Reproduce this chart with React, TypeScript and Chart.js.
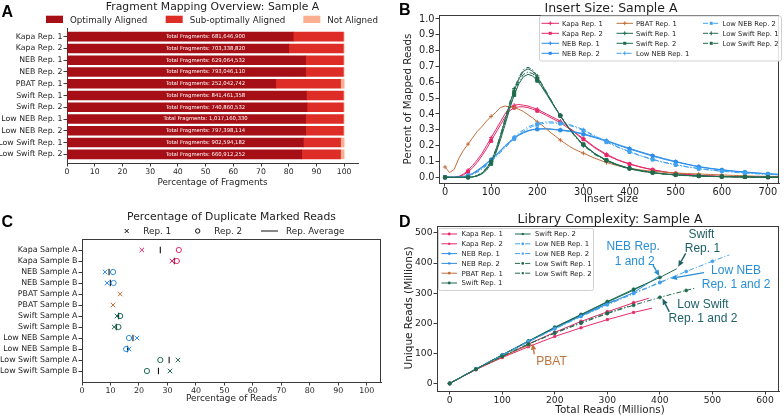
import React, { useEffect, useRef } from 'react';
import { Chart, registerables } from 'chart.js';

Chart.register(...registerables);

const CW = 784;
const CH = 415;
const MPL = '"DejaVu Sans", "Noto Sans", sans-serif';
const SANS = '"Liberation Sans", Arial, sans-serif';
const INK = '#1e1e1e';
const SPINE = '#3a3a3a';

const KAPA = '#e6286a';
const NEB = '#2b8de8';
const LOW_NEB = '#41a2f0';
const PBAT = '#c06e3a';
const SWIFT = '#1b6b52';
const LOW_SWIFT = '#226a4c';

// ---------------- Panel A: fragment mapping ----------------
const fragmentSamples = [
  'Kapa Rep. 1', 'Kapa Rep. 2', 'NEB Rep. 1', 'NEB Rep. 2', 'PBAT Rep. 1', 'Swift Rep. 1',
  'Swift Rep. 2', 'Low NEB Rep. 1', 'Low NEB Rep. 2', 'Low Swift Rep. 1', 'Low Swift Rep. 2',
];
const optimallyAligned = [81.6, 80.0, 86.1, 86.1, 75.3, 86.4, 86.6, 86.1, 86.1, 85.3, 84.7];
const subOptimallyAligned = [18.1, 19.7, 13.6, 13.6, 23.4, 13.3, 13.1, 13.6, 13.6, 13.4, 14.0];
const notAligned = [0.3, 0.3, 0.3, 0.3, 1.3, 0.3, 0.3, 0.3, 0.3, 1.3, 1.3];
const totalFragments = [
  '681,646,900', '703,338,820', '629,064,532', '793,046,110', '252,042,742', '841,461,358',
  '740,860,532', '1,017,160,330', '797,398,114', '902,594,182', '660,912,252',
];
const fragmentTicks = [0, 10, 20, 30, 40, 50, 60, 70, 80, 90, 100];

// ---------------- Panel B: insert size ----------------
const insertSizes = [
  0, 10, 20, 30, 40, 50, 60, 70, 80, 90, 100, 110, 120, 130, 140, 150, 160, 170, 180, 190, 200,
  210, 220, 230, 240, 250, 260, 270, 280, 290, 300, 325, 350, 375, 400, 425, 450, 475, 500, 525,
  550, 575, 600, 625, 650, 675, 700, 725,
];
const kapaRep1Insert = [0, 0, 0, 0.005, 0.02, 0.045, 0.075, 0.11, 0.15, 0.2, 0.25, 0.3, 0.35, 0.4, 0.44, 0.455, 0.46, 0.455, 0.45, 0.44, 0.43, 0.415, 0.4, 0.385, 0.37, 0.355, 0.335, 0.31, 0.29, 0.265, 0.245, 0.19, 0.145, 0.11, 0.085, 0.065, 0.048, 0.035, 0.025, 0.018, 0.012, 0.009, 0.006, 0.004, 0.003, 0.002, 0.001, 0.001];
const kapaRep2Insert = [0, 0, 0, 0.003, 0.015, 0.035, 0.06, 0.095, 0.135, 0.18, 0.23, 0.28, 0.33, 0.38, 0.42, 0.44, 0.445, 0.445, 0.44, 0.43, 0.42, 0.405, 0.39, 0.375, 0.36, 0.345, 0.325, 0.305, 0.285, 0.26, 0.24, 0.185, 0.14, 0.108, 0.083, 0.063, 0.047, 0.034, 0.024, 0.017, 0.012, 0.008, 0.006, 0.004, 0.003, 0.002, 0.001, 0.001];
const nebRep1Insert = [0, 0, 0, 0, 0.005, 0.012, 0.025, 0.045, 0.065, 0.09, 0.115, 0.14, 0.17, 0.2, 0.225, 0.25, 0.27, 0.285, 0.295, 0.302, 0.305, 0.307, 0.307, 0.305, 0.302, 0.3, 0.297, 0.293, 0.288, 0.282, 0.275, 0.255, 0.232, 0.207, 0.183, 0.16, 0.138, 0.118, 0.1, 0.083, 0.068, 0.057, 0.048, 0.04, 0.034, 0.028, 0.023, 0.019];
const nebRep2Insert = [0, 0, 0, 0, 0.004, 0.01, 0.022, 0.04, 0.06, 0.085, 0.11, 0.135, 0.165, 0.195, 0.22, 0.245, 0.265, 0.28, 0.292, 0.3, 0.303, 0.305, 0.305, 0.303, 0.3, 0.297, 0.293, 0.289, 0.284, 0.278, 0.271, 0.25, 0.228, 0.203, 0.178, 0.156, 0.134, 0.114, 0.097, 0.081, 0.066, 0.055, 0.046, 0.038, 0.032, 0.026, 0.021, 0.017];
const pbatRep1Insert = [0.065, 0.03, 0.05, 0.12, 0.17, 0.21, 0.25, 0.29, 0.32, 0.355, 0.385, 0.41, 0.44, 0.45, 0.445, 0.44, 0.43, 0.415, 0.395, 0.375, 0.35, 0.33, 0.305, 0.28, 0.258, 0.235, 0.215, 0.195, 0.178, 0.165, 0.152, 0.12, 0.093, 0.073, 0.057, 0.046, 0.038, 0.032, 0.027, 0.024, 0.021, 0.018, 0.015, 0.012, 0.009, 0.007, 0.006, 0.005];
const swiftRep1Insert = [0, 0, 0, 0, 0, 0, 0.003, 0.01, 0.025, 0.055, 0.1, 0.17, 0.26, 0.36, 0.46, 0.55, 0.62, 0.67, 0.685, 0.67, 0.63, 0.585, 0.535, 0.485, 0.435, 0.39, 0.345, 0.305, 0.268, 0.235, 0.205, 0.148, 0.107, 0.077, 0.055, 0.04, 0.029, 0.021, 0.015, 0.011, 0.008, 0.006, 0.004, 0.003, 0.002, 0.001, 0.001, 0];
const swiftRep2Insert = [0, 0, 0, 0, 0, 0, 0.002, 0.008, 0.02, 0.045, 0.085, 0.15, 0.235, 0.33, 0.43, 0.52, 0.59, 0.635, 0.65, 0.64, 0.61, 0.57, 0.525, 0.478, 0.432, 0.388, 0.345, 0.305, 0.27, 0.237, 0.208, 0.15, 0.109, 0.079, 0.057, 0.042, 0.03, 0.022, 0.016, 0.012, 0.009, 0.006, 0.004, 0.003, 0.002, 0.001, 0.001, 0];
const lowNebRep1Insert = [0, 0, 0, 0, 0.004, 0.01, 0.02, 0.035, 0.055, 0.08, 0.105, 0.135, 0.165, 0.195, 0.225, 0.255, 0.28, 0.3, 0.318, 0.33, 0.34, 0.346, 0.35, 0.35, 0.348, 0.345, 0.34, 0.333, 0.324, 0.313, 0.3, 0.262, 0.225, 0.192, 0.162, 0.136, 0.114, 0.095, 0.08, 0.067, 0.056, 0.047, 0.04, 0.034, 0.029, 0.024, 0.02, 0.017];
const lowNebRep2Insert = [0, 0, 0, 0, 0.003, 0.008, 0.018, 0.032, 0.05, 0.073, 0.098, 0.125, 0.155, 0.185, 0.215, 0.243, 0.268, 0.29, 0.308, 0.322, 0.332, 0.338, 0.342, 0.343, 0.342, 0.339, 0.334, 0.327, 0.318, 0.307, 0.295, 0.258, 0.222, 0.189, 0.16, 0.134, 0.112, 0.093, 0.078, 0.065, 0.054, 0.045, 0.038, 0.032, 0.027, 0.022, 0.018, 0.015];
const lowSwiftRep1Insert = [0, 0, 0, 0, 0, 0, 0.004, 0.012, 0.03, 0.06, 0.105, 0.175, 0.265, 0.37, 0.47, 0.56, 0.63, 0.68, 0.695, 0.68, 0.64, 0.59, 0.54, 0.488, 0.437, 0.39, 0.344, 0.302, 0.264, 0.23, 0.2, 0.143, 0.103, 0.074, 0.053, 0.038, 0.028, 0.02, 0.014, 0.01, 0.007, 0.005, 0.004, 0.003, 0.002, 0.001, 0.001, 0];
const lowSwiftRep2Insert = [0, 0, 0, 0, 0, 0, 0.003, 0.01, 0.026, 0.052, 0.095, 0.16, 0.245, 0.345, 0.445, 0.535, 0.605, 0.65, 0.665, 0.655, 0.62, 0.578, 0.53, 0.482, 0.434, 0.39, 0.347, 0.307, 0.27, 0.236, 0.206, 0.148, 0.106, 0.076, 0.055, 0.04, 0.029, 0.021, 0.015, 0.011, 0.008, 0.006, 0.004, 0.003, 0.002, 0.001, 0.001, 0];
const insertXTicks = [0, 100, 200, 300, 400, 500, 600, 700];
const insertYTicks = [0, 0.1, 0.2, 0.3, 0.4, 0.5, 0.6, 0.7, 0.8, 0.9, 1.0];

// ---------------- Panel C: duplicates ----------------
const dupCategories = [
  'Kapa Sample A', 'Kapa Sample B', 'NEB Sample A', 'NEB Sample B', 'PBAT Sample A', 'PBAT Sample B',
  'Swift Sample A', 'Swift Sample B', 'Low NEB Sample A', 'Low NEB Sample B', 'Low Swift Sample A', 'Low Swift Sample B',
];
const dupRep1 = [21.0, 31.6, 8.1, 8.8, 13.4, 10.9, 12.3, 11.3, 19.3, 16.5, 33.7, 30.9];
const dupRep2 = [34.0, 33.3, 10.9, 11.1, null, null, 13.4, 12.8, 16.5, 15.5, 27.5, 22.8];
const dupColors = [KAPA, KAPA, NEB, NEB, PBAT, PBAT, SWIFT, SWIFT, NEB, NEB, SWIFT, SWIFT];
const dupTicks = [0, 10, 20, 30, 40, 50, 60, 70, 80, 90, 100];

// ---------------- Panel D: library complexity ----------------
const kapaRep1Total = [0, 50, 100, 150, 200, 250, 300, 350, 379];
const kapaRep1Unique = [0, 47, 88, 131, 170, 206, 238, 268, 283];
const kapaRep2Total = [0, 50, 100, 150, 200, 250, 300, 350, 385];
const kapaRep2Unique = [0, 46, 86, 122, 156, 185, 212, 236, 250];
const nebRep1Total = [0, 50, 100, 150, 200, 250, 300, 315];
const nebRep1Unique = [0, 48, 95, 141, 185, 226, 266, 277];
const nebRep2Total = [0, 50, 100, 150, 200, 250, 300, 350, 397];
const nebRep2Unique = [0, 48, 94, 139, 183, 224, 264, 302, 355];
const pbatRep1Total = [0, 50, 100, 150, 156];
const pbatRep1Unique = [0, 47, 89, 127, 131];
const swiftRep1Total = [0, 50, 100, 150, 200, 250, 300, 350, 400, 432];
const swiftRep1Unique = [0, 48, 95, 141, 187, 229, 272, 313, 352, 381];
const swiftRep2Total = [0, 50, 100, 150, 200, 250, 300, 350, 370];
const swiftRep2Unique = [0, 48, 94, 140, 185, 228, 270, 310, 328];
const lowNebRep1Total = [0, 50, 100, 150, 200, 250, 300, 350, 400, 450, 500, 532];
const lowNebRep1Unique = [0, 48, 94, 139, 182, 223, 262, 300, 336, 372, 406, 427];
const lowNebRep2Total = [0, 50, 100, 150, 200, 250, 300, 350, 400, 415];
const lowNebRep2Unique = [0, 48, 94, 138, 181, 222, 261, 298, 334, 346];
const lowSwiftRep1Total = [0, 50, 100, 150, 200, 250, 300, 350, 400, 450, 468];
const lowSwiftRep1Unique = [0, 47, 90, 131, 167, 200, 232, 260, 286, 309, 317];
const lowSwiftRep2Total = [0, 50, 100, 150, 200, 250, 300, 340];
const lowSwiftRep2Unique = [0, 47, 90, 131, 168, 203, 234, 257];
const complexityXTicks = [0, 100, 200, 300, 400, 500, 600];
const complexityYTicks = [0, 100, 200, 300, 400, 500];

const DASHDOT = [5, 2, 1.2, 2];

const kitSeries = [
  { label: 'Kapa Rep. 1', color: KAPA, dash: [], marker: 'cross', ins: kapaRep1Insert, tx: kapaRep1Total, ty: kapaRep1Unique },
  { label: 'Kapa Rep. 2', color: KAPA, dash: [], marker: 'rect', ins: kapaRep2Insert, tx: kapaRep2Total, ty: kapaRep2Unique },
  { label: 'NEB Rep. 1', color: NEB, dash: [], marker: 'cross', ins: nebRep1Insert, tx: nebRep1Total, ty: nebRep1Unique },
  { label: 'NEB Rep. 2', color: NEB, dash: [], marker: 'rect', ins: nebRep2Insert, tx: nebRep2Total, ty: nebRep2Unique },
  { label: 'PBAT Rep. 1', color: PBAT, dash: [], marker: 'cross', ins: pbatRep1Insert, tx: pbatRep1Total, ty: pbatRep1Unique },
  { label: 'Swift Rep. 1', color: SWIFT, dash: [], marker: 'cross', ins: swiftRep1Insert, tx: swiftRep1Total, ty: swiftRep1Unique },
  { label: 'Swift Rep. 2', color: SWIFT, dash: [], marker: 'rect', ins: swiftRep2Insert, tx: swiftRep2Total, ty: swiftRep2Unique },
  { label: 'Low NEB Rep. 1', color: LOW_NEB, dash: DASHDOT, marker: 'cross', ins: lowNebRep1Insert, tx: lowNebRep1Total, ty: lowNebRep1Unique },
  { label: 'Low NEB Rep. 2', color: LOW_NEB, dash: DASHDOT, marker: 'rect', ins: lowNebRep2Insert, tx: lowNebRep2Total, ty: lowNebRep2Unique },
  { label: 'Low Swift Rep. 1', color: LOW_SWIFT, dash: DASHDOT, marker: 'cross', ins: lowSwiftRep1Insert, tx: lowSwiftRep1Total, ty: lowSwiftRep1Unique },
  { label: 'Low Swift Rep. 2', color: LOW_SWIFT, dash: DASHDOT, marker: 'rect', ins: lowSwiftRep2Insert, tx: lowSwiftRep2Total, ty: lowSwiftRep2Unique },
];

// ---------------- helpers ----------------
const X_H = 30;
// chart area given in canvas pixels: y-axis box spans from the canvas left edge to the plot's left edge
function area(l: number, t: number, r: number, b: number) {
  return { padding: { left: 0, top: t, right: CW - r, bottom: CH - b - X_H } };
}

function axis(o: any) {
  return {
    type: 'linear',
    min: o.min,
    max: o.max,
    reverse: !!o.reverse,
    stacked: !!o.stacked,
    offset: false,
    afterBuildTicks: (s: any) => { s.ticks = o.ticks.map((v: number) => ({ value: v })); },
    afterFit: o.horizontal ? (s: any) => { s.height = X_H; } : (s: any) => { s.width = o.width; },
    grid: { display: true, drawOnChartArea: false, drawTicks: true, offset: false, tickLength: o.tickLen ?? 3.5, tickWidth: 1, tickColor: SPINE },
    border: { display: true, color: SPINE, width: 1 },
    ticks: {
      font: { family: MPL, size: o.size },
      color: INK,
      padding: o.pad ?? 1,
      autoSkip: false,
      maxRotation: 0,
      minRotation: 0,
      callback: o.fmt || ((v: number) => String(v)),
    },
  };
}

function text(ctx: any, s: string, x: number, y: number, o: any) {
  ctx.save();
  ctx.font = `${o.weight || 'normal'} ${o.size}px ${o.family || MPL}`;
  ctx.fillStyle = o.color || INK;
  ctx.textAlign = o.align || 'center';
  ctx.textBaseline = o.baseline || 'alphabetic';
  ctx.translate(x, y);
  if (o.rotate) ctx.rotate(o.rotate);
  ctx.fillText(s, 0, 0);
  ctx.restore();
}

function marker(ctx: any, kind: string, x: number, y: number, r: number, color: string) {
  ctx.save();
  ctx.strokeStyle = color;
  ctx.fillStyle = color;
  ctx.lineWidth = 1;
  ctx.setLineDash([]);
  ctx.beginPath();
  if (kind === 'cross') {
    ctx.moveTo(x - r, y); ctx.lineTo(x + r, y); ctx.moveTo(x, y - r); ctx.lineTo(x, y + r); ctx.stroke();
  } else if (kind === 'rect') {
    const d = r * 0.75;
    ctx.fillRect(x - d, y - d, 2 * d, 2 * d);
  } else if (kind === 'circle') {
    ctx.arc(x, y, r, 0, Math.PI * 2); ctx.fill();
  } else if (kind === 'x') {
    ctx.moveTo(x - r, y - r); ctx.lineTo(x + r, y + r); ctx.moveTo(x - r, y + r); ctx.lineTo(x + r, y - r); ctx.stroke();
  } else if (kind === 'ring') {
    ctx.arc(x, y, r, 0, Math.PI * 2); ctx.stroke();
  }
  ctx.restore();
}

function handle(ctx: any, x0: number, x1: number, y: number, item: any, mk: string, mr: number) {
  ctx.save();
  ctx.strokeStyle = item.color;
  ctx.lineWidth = 1;
  ctx.setLineDash(item.dash || []);
  ctx.beginPath(); ctx.moveTo(x0, y); ctx.lineTo(x1, y); ctx.stroke();
  ctx.restore();
  marker(ctx, mk, (x0 + x1) / 2, y, mr, item.color);
}

function legendFrame(ctx: any, x: number, y: number, w: number, h: number) {
  ctx.save();
  ctx.beginPath();
  ctx.roundRect(x + 0.5, y + 0.5, w, h, 2);
  ctx.fillStyle = 'rgba(255,255,255,0.85)';
  ctx.fill();
  ctx.strokeStyle = '#d0d0d0';
  ctx.lineWidth = 1;
  ctx.stroke();
  ctx.restore();
}

function boxFrame(chart: any) {
  const a = chart.chartArea;
  const ctx = chart.ctx;
  ctx.save();
  ctx.strokeStyle = SPINE;
  ctx.lineWidth = 1;
  ctx.strokeRect(Math.round(a.left) + 0.5, Math.round(a.top) + 0.5, Math.round(a.right - a.left) - 1, Math.round(a.bottom - a.top));
  ctx.restore();
}

function arrow(ctx: any, x1: number, y1: number, x2: number, y2: number, color: string, w = 1.4, head = 6) {
  const a = Math.atan2(y2 - y1, x2 - x1);
  const bx = x2 - head * Math.cos(a);
  const by = y2 - head * Math.sin(a);
  const hw = head * 0.45;
  ctx.save();
  ctx.strokeStyle = color;
  ctx.fillStyle = color;
  ctx.lineWidth = w;
  ctx.beginPath(); ctx.moveTo(x1, y1); ctx.lineTo(bx, by); ctx.stroke();
  ctx.beginPath();
  ctx.moveTo(x2, y2);
  ctx.lineTo(bx + hw * Math.sin(a), by - hw * Math.cos(a));
  ctx.lineTo(bx - hw * Math.sin(a), by + hw * Math.cos(a));
  ctx.closePath();
  ctx.fill();
  ctx.restore();
}

function panelLetter(ctx: any, s: string, x: number, y: number) {
  text(ctx, s, x, y, { size: 16, weight: 'bold', family: SANS, align: 'left', color: '#000' });
}

const base = { responsive: false, animation: false, events: [], maintainAspectRatio: false };

// ---------------- configs ----------------
const A_COLORS = ['#a50f15', '#de2d26', '#fcae91'];
const A_LABELS = ['Optimally Aligned', 'Sub-optimally Aligned', 'Not Aligned'];

function configA() {
  const series = [optimallyAligned, subOptimallyAligned, notAligned];
  return {
    type: 'bar',
    data: {
      datasets: series.map((vals, k) => ({
        label: A_LABELS[k],
        data: vals.map((v, i) => ({ x: v, y: i })),
        backgroundColor: A_COLORS[k],
        borderWidth: 0,
        barThickness: 9,
      })),
    },
    options: {
      ...base,
      indexAxis: 'y',
      layout: area(67, 28, 358, 163),
      plugins: { legend: { display: false }, tooltip: { enabled: false } },
      scales: {
        x: axis({ min: 0, max: 105, ticks: fragmentTicks, size: 7.7, horizontal: true, stacked: true, pad: 0.5 }),
        y: axis({ width: 67, min: -0.74, max: 10.74, reverse: true, stacked: true, ticks: fragmentSamples.map((_, i) => i), size: 7.8, fmt: (v: number) => fragmentSamples[v] }),
      },
    },
    plugins: [{
      id: 'decoA',
      afterDatasetsDraw(chart: any) {
        const { ctx, scales } = chart;
        totalFragments.forEach((t, i) => {
          text(ctx, 'Total Fragments: ' + t, scales.x.getPixelForValue(50), scales.y.getPixelForValue(i), { size: 5.3, color: '#ffffff', baseline: 'middle' });
        });
      },
      afterDraw(chart: any) {
        const ctx = chart.ctx;
        panelLetter(ctx, 'A', 1.5, 16.8);
        text(ctx, 'Fragment Mapping Overview: Sample A', 212.5, 9.6, { size: 10.8 });
        const lx = [46, 165.7, 303.3];
        A_LABELS.forEach((lab, k) => {
          ctx.fillStyle = A_COLORS[k];
          ctx.fillRect(lx[k], 15.7, 17, 7.3);
          text(ctx, lab, lx[k] + 24, 22.6, { size: 8.7, align: 'left' });
        });
        text(ctx, 'Percentage of Fragments', 212.5, 184.5, { size: 8.8 });
      },
    }],
  };
}

function configB() {
  return {
    type: 'line',
    data: {
      datasets: kitSeries.map((s, k) => ({
        label: s.label,
        data: insertSizes.map((x, i) => ({ x, y: s.ins[i] })),
        borderColor: s.color,
        backgroundColor: s.color,
        borderWidth: 1,
        borderDash: s.dash,
        pointStyle: s.marker,
        pointRadius: (c: any) => (c.raw && c.raw.x % 50 === 0 ? 2.1 : 0),
        pointBorderColor: s.color,
        pointBackgroundColor: s.color,
        pointBorderWidth: 1,
        tension: 0,
        order: -k,
      })),
    },
    options: {
      ...base,
      layout: area(439, 15, 783, 183),
      plugins: { legend: { display: false }, tooltip: { enabled: false } },
      scales: {
        x: axis({ min: -13, max: 724, ticks: insertXTicks, size: 9.8, horizontal: true, pad: 0 }),
        y: axis({ width: 439, min: -0.036, max: 1.025, ticks: insertYTicks, size: 9.8, fmt: (v: number) => v.toFixed(1) }),
      },
    },
    plugins: [{
      id: 'decoB',
      afterDraw(chart: any) {
        const ctx = chart.ctx;
        boxFrame(chart);
        panelLetter(ctx, 'B', 399, 15.2);
        text(ctx, 'Insert Size: Sample A', 611, 11.8, { size: 12.5 });
        text(ctx, 'Percent of Mapped Reads', 411, 99, { size: 10.3, rotate: -Math.PI / 2 });
        text(ctx, 'Insert Size', 611, 202, { size: 10.3 });
        legendFrame(ctx, 539, 15.5, 242, 45);
        const cols = [[541.5, 559], [616.5, 633], [703, 719.5]];
        const rows = [23.3, 33.3, 43.3, 53.3];
        kitSeries.forEach((s, k) => {
          const c = Math.floor(k / 4);
          const r = k % 4;
          const [x0, x1] = cols[c];
          handle(ctx, x0, x1, rows[r], s, s.marker, 2);
          text(ctx, s.label, x1 + 3, rows[r] + 2.4, { size: 6.8, align: 'left' });
        });
      },
    }],
  };
}

function configC() {
  const rep1 = dupRep1.map((v, i) => ({ x: v, y: i }));
  const rep2 = dupRep2.map((v, i) => (v == null ? null : { x: v, y: i })).filter(Boolean);
  const avg = dupRep1.map((v, i) => (dupRep2[i] == null ? null : { x: (v + (dupRep2[i] as number)) / 2, y: i })).filter(Boolean);
  const col = (c: any) => dupColors[c.raw ? c.raw.y : 0];
  return {
    type: 'scatter',
    data: {
      datasets: [
        { label: 'Rep. 1', data: rep1, pointStyle: 'crossRot', pointRadius: 3.2, pointBorderColor: col, pointBackgroundColor: col, pointBorderWidth: 1 },
        { label: 'Rep. 2', data: rep2, pointStyle: 'circle', pointRadius: 2.6, pointBorderColor: col, pointBackgroundColor: 'rgba(0,0,0,0)', pointBorderWidth: 1 },
        { label: 'Rep. Average', data: avg, pointStyle: 'line', pointRotation: 90, pointRadius: 3.2, pointBorderColor: '#111', pointBorderWidth: 1.1 },
      ],
    },
    options: {
      ...base,
      layout: area(82, 239, 381, 382),
      plugins: { legend: { display: false }, tooltip: { enabled: false } },
      scales: {
        x: axis({ min: 0, max: 105, ticks: dupTicks, size: 7.9, horizontal: true, pad: 0.5 }),
        y: axis({ width: 82, min: -1, max: 12, reverse: true, ticks: dupCategories.map((_, i) => i), size: 7.9, fmt: (v: number) => dupCategories[v] }),
      },
    },
    plugins: [{
      id: 'decoC',
      afterDraw(chart: any) {
        const ctx = chart.ctx;
        boxFrame(chart);
        panelLetter(ctx, 'C', 1.5, 227.3);
        text(ctx, 'Percentage of Duplicate Marked Reads', 231.5, 220, { size: 10.8 });
        marker(ctx, 'x', 126.7, 231, 2, '#111');
        text(ctx, 'Rep. 1', 143.3, 234.3, { size: 8.8, align: 'left' });
        marker(ctx, 'ring', 197.7, 231, 2.2, '#111');
        text(ctx, 'Rep. 2', 214.3, 234.3, { size: 8.8, align: 'left' });
        ctx.save();
        ctx.strokeStyle = '#111'; ctx.lineWidth = 1;
        ctx.beginPath(); ctx.moveTo(261, 231); ctx.lineTo(278, 231); ctx.stroke();
        ctx.restore();
        text(ctx, 'Rep. Average', 286, 234.3, { size: 8.8, align: 'left' });
        text(ctx, 'Percentage of Reads', 231.5, 400.7, { size: 8.9 });
      },
    }],
  };
}

const annotationsD = [
  { lines: ['NEB Rep.', '1 and 2'], at: [[349, 454], [352, 404]], color: '#2a8fd2', arrow: [387, 393, 399, 357] },
  { lines: ['Swift', 'Rep. 1'], at: [[479, 493], [481, 446]], color: '#1d5f62', arrow: [449, 432, 435, 388] },
  { lines: ['Low NEB', 'Rep. 1 and 2'], at: [[545, 374], [545, 327]], color: '#2a8fd2', arrow: [484, 368, 421, 349] },
  { lines: ['Low Swift', 'Rep. 1 and 2'], at: [[482, 263], [482, 216]], color: '#1f6268', arrow: [418, 238, 405, 282] },
  { lines: ['PBAT'], at: [[194, 74]], color: '#c0733c', arrow: [161, 97, 158, 132] },
];

function configD() {
  return {
    type: 'line',
    data: {
      datasets: kitSeries.map((s, k) => ({
        label: s.label,
        data: s.tx.map((x: number, i: number) => ({ x, y: s.ty[i] })),
        borderColor: s.color,
        backgroundColor: s.color,
        borderWidth: 1,
        borderDash: s.dash,
        pointStyle: s.marker === 'cross' ? 'circle' : 'rect',
        pointRadius: (c: any) => (c.raw && c.raw.x % 50 === 0 ? 1.5 : 0),
        pointBorderColor: s.color,
        pointBackgroundColor: s.color,
        pointBorderWidth: 0.8,
        tension: 0,
        order: -k,
      })),
    },
    options: {
      ...base,
      layout: area(437, 226, 783, 391),
      plugins: { legend: { display: false }, tooltip: { enabled: false } },
      scales: {
        x: axis({ min: -24, max: 627, ticks: complexityXTicks, size: 9.2, horizontal: true, pad: 0.5 }),
        y: axis({ width: 437, min: -25, max: 523, ticks: complexityYTicks, size: 9.2 }),
      },
    },
    plugins: [{
      id: 'decoD',
      afterDraw(chart: any) {
        const { ctx, scales } = chart;
        boxFrame(chart);
        panelLetter(ctx, 'D', 399, 226.7);
        text(ctx, 'Library Complexity: Sample A', 610, 222.7, { size: 12.5 });
        text(ctx, 'Unique Reads (Millions)', 411.5, 308, { size: 10.5, rotate: -Math.PI / 2 });
        text(ctx, 'Total Reads (Millions)', 610, 413.3, { size: 10.4 });
        legendFrame(ctx, 438, 228, 155, 62);
        const cols = [[441.5, 457], [515, 530.5]];
        const rows = [234, 243.8, 253.6, 263.4, 273.2, 283];
        kitSeries.forEach((s, k) => {
          const c = k < 6 ? 0 : 1;
          const r = k < 6 ? k : k - 6;
          const [x0, x1] = cols[c];
          handle(ctx, x0, x1, rows[r], s, s.marker === 'cross' ? 'circle' : 'rect', 1.4);
          text(ctx, s.label, x1 + 4.5, rows[r] + 2.4, { size: 6.9, align: 'left' });
        });
        const px = (v: number) => scales.x.getPixelForValue(v);
        const py = (v: number) => scales.y.getPixelForValue(v);
        annotationsD.forEach((a) => {
          a.lines.forEach((ln, i) => {
            text(ctx, ln, px(a.at[i][0]), py(a.at[i][1]), { size: 12, family: SANS, color: a.color, baseline: 'middle' });
          });
          const [x1, y1, x2, y2] = a.arrow;
          arrow(ctx, px(x1), py(y1), px(x2), py(y2), a.color);
        });
      },
    }],
  };
}

function ChartCanvas({ make }: { make: () => any }) {
  const ref = useRef<HTMLCanvasElement | null>(null);
  useEffect(() => {
    const chart = new Chart(ref.current as HTMLCanvasElement, make());
    return () => chart.destroy();
  }, []);
  return (
    <canvas
      ref={ref}
      width={CW}
      height={CH}
      style={{ position: 'absolute', left: 0, top: 0, width: CW, height: CH, pointerEvents: 'none' }}
    />
  );
}

export default function App() {
  return (
    <div style={{ position: 'absolute', left: 0, top: 0, width: CW, height: CH, background: '#ffffff', overflow: 'hidden' }}>
      <ChartCanvas make={configA} />
      <ChartCanvas make={configC} />
      <ChartCanvas make={configB} />
      <ChartCanvas make={configD} />
    </div>
  );
}
